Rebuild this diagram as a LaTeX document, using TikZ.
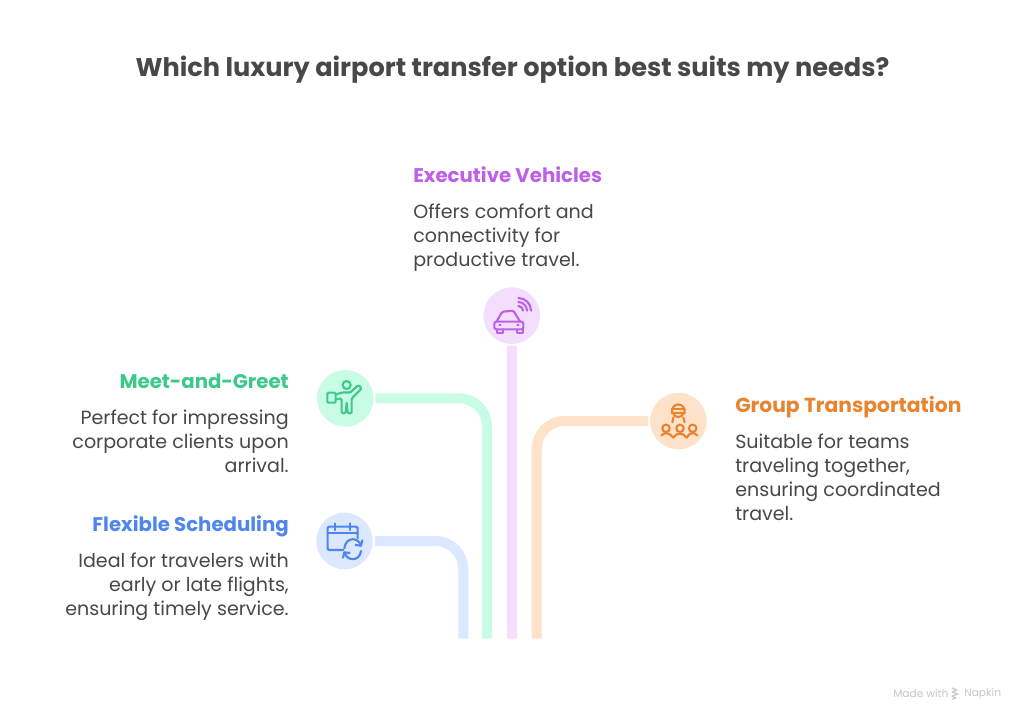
\documentclass[tikz,border=0pt]{standalone}
\usepackage{fontspec}
\setmainfont{Poppins}
\usetikzlibrary{arrows.meta}
\definecolor{ink}{HTML}{484848}
\definecolor{pur}{HTML}{BE5FE8}\definecolor{purL}{HTML}{F3DFFD}
\definecolor{grn}{HTML}{3CC98A}\definecolor{grnL}{HTML}{C8FCE4}
\definecolor{blu}{HTML}{4F86EE}\definecolor{bluL}{HTML}{DCE8FF}
\definecolor{org}{HTML}{E8842F}\definecolor{orgL}{HTML}{FFE2CA}
\tikzset{
 disc/.style={circle,minimum size=42.4pt,inner sep=0pt,outer sep=1.5pt,fill=#1},
 conn/.style={line width=7.5pt,rounded corners=21pt,draw=#1},
 head/.style={font=\fontsize{14.8pt}{18pt}\selectfont\bfseries,inner sep=0pt,text=#1},
 body/.style={font=\fontsize{14.3pt}{18pt}\selectfont,inner sep=0pt,text=ink},
 icon/.style={line width=1.6pt,draw=#1,line cap=round,line join=round,fill=none},
}
\begin{document}
\begin{tikzpicture}[x=0.75pt,y=-0.75pt]
\useasboundingbox (0,0) rectangle (1024,721);
\fill[white] (0,0) rectangle (1024,721);
\node[font=\fontsize{19.2pt}{24pt}\selectfont\bfseries,text=ink,inner sep=0pt,anchor=base] (title) at (512.5,76) {Which luxury airport transfer option best suits my needs?};
% discs
\node[disc=purL] (dpur) at (511.8,315.7) {};
\node[disc=grnL] (dgrn) at (345.3,398.3) {};
\node[disc=bluL] (dblu) at (344.5,541) {};
\node[disc=orgL] (dorg) at (678.4,421) {};
% connector feet
\coordinate (fblu) at (463.3,638.7);
\coordinate (fgrn) at (487,638.7);
\coordinate (fpur) at (512,638.7);
\coordinate (forg) at (536.7,638.7);
\draw[conn=bluL] (dblu.east) -| (fblu);
\draw[conn=grnL] (dgrn.east) -| (fgrn);
\draw[conn=purL] (dpur.south) -- (fpur);
\draw[conn=orgL] (dorg.west) -| (forg);
% text
\node[head=pur,anchor=base west] (hpur) at (413,182) {Executive Vehicles};
\node[body,anchor=north west,align=left] (bpur) at (413,204) {Offers comfort and\\connectivity for\\productive travel.};
\node[head=grn,anchor=base east] (hgrn) at (289,388) {Meet-and-Greet};
\node[body,anchor=north east,align=right] (bgrn) at (289,410) {Perfect for impressing\\corporate clients upon\\arrival.};
\node[head=blu,anchor=base east] (hblu) at (289,531) {Flexible Scheduling};
\node[body,anchor=north east,align=right] (bblu) at (289,553) {Ideal for travelers with\\early or late flights,\\ensuring timely service.};
\node[head=org,anchor=base west,font=\fontsize{15.2pt}{18pt}\selectfont\bfseries] (horg) at (735,412) {Group Transportation};
\node[body,anchor=north west,align=left] (borg) at (735,434) {Suitable for teams\\traveling together,\\ensuring coordinated\\travel.};
% car icon
\begin{scope}[shift={(470,280)},x=0.25pt,y=-0.25pt]
\draw[icon=pur,rounded corners=1pt] (80,124)--(97,95)--(130,92)--(150,124);
\draw[icon=pur,rounded corners=1.5pt] (73,125) -- (160,125) -- (160,148) -- (73,148) -- cycle;
\draw[icon=pur] (80,148)--(80,160)--(98,160)--(98,148) (140,148)--(140,160)--(158,160)--(158,148);
\draw[icon=pur] (88,136)--(92,136) (142,136)--(146,136);
\draw[icon=pur] (145,78) .. controls (153,78) and (159,84) .. (159,92);
\draw[icon=pur] (145,66) .. controls (159,66) and (171,78) .. (171,92);
\draw[icon=pur] (145,54) .. controls (166,54) and (183,71) .. (183,92);
\end{scope}
% greeter icon
\begin{scope}[shift={(305,360)},x=0.25pt,y=-0.25pt]
\draw[icon=grn] (125,75) circle[radius=3pt];
\draw[icon=grn,rounded corners=.8pt] (67,98)--(92,98)--(92,128)--(67,128)--cycle;
\draw[icon=grn,rounded corners=1pt] (92,103)--(115,97)--(135,98)--(160,75)--(170,85)--(140,115)--(140,160)--(128,160)--(125,125)--(122,160)--(110,160)--(110,115)--(92,118);
\end{scope}
% calendar icon
\begin{scope}[shift={(305,505)},x=0.25pt,y=-0.25pt]
\draw[icon=blu,rounded corners=1pt] (115,135)--(68,135)--(68,65)--(158,65)--(158,100);
\draw[icon=blu] (68,85)--(158,85) (90,55)--(90,75) (135,55)--(135,75);
\draw[icon=blu] (118,130) .. controls (122,95) and (160,95) .. (168,122);
\draw[icon=blu] (168,138) .. controls (164,170) and (126,170) .. (118,142);
\draw[icon=blu] (172,106)--(168,122)--(152,120) (114,158)--(118,142)--(134,144);
\end{scope}
% group icon
\begin{scope}[shift={(640,385)},x=0.25pt,y=-0.25pt]
\draw[icon=org] (96,84) .. controls (92,50) and (138,50) .. (134,84) -- cycle;
\draw[icon=org] (96,72)--(134,72);
\draw[icon=org] (100,84) .. controls (100,100) and (130,100) .. (130,84);
\draw[icon=org] (78,130) circle[radius=2.8pt] (120,130) circle[radius=2.8pt] (158,130) circle[radius=2.8pt];
\draw[icon=org] (64,152) .. controls (72,140) and (88,142) .. (100,158) .. controls (108,142) and (130,142) .. (140,158) .. controls (148,142) and (164,140) .. (172,152);
\draw[icon=org] (100,98)--(97,112) (130,98)--(134,112);
\end{scope}
% watermark
\node[font=\fontsize{8pt}{10pt}\selectfont,text=black!22,inner sep=0pt,anchor=west] (made) at (893,693.5) {Made with};
\node[font=\fontsize{8pt}{10pt}\selectfont,text=black!22,inner sep=0pt,anchor=west] (nap) at (964,693.5) {Napkin};
\draw[line width=.9pt,black!22,line join=round] (952,688)--(957,690)--(952,692)--(958,694)--(952,696)--(956,698)--(952,699);
\end{tikzpicture}
\end{document}
